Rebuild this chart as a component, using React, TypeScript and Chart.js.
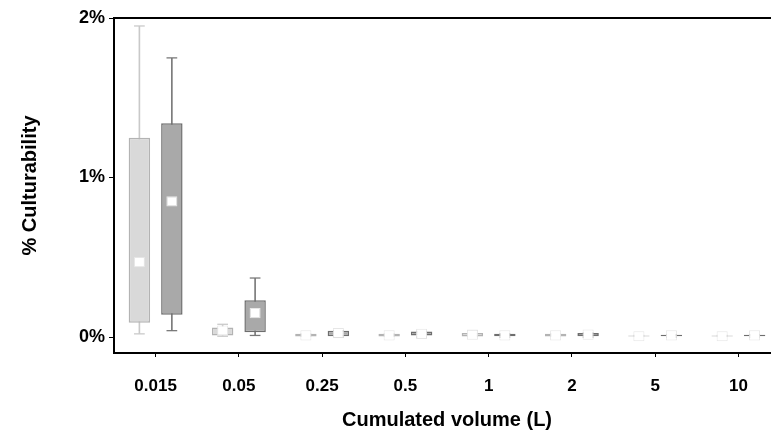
import React, { useRef, useEffect } from "react";
import Chart from "chart.js/auto";

const categories = ["0.015", "0.05", "0.25", "0.5", "1", "2", "5", "10"];
const yTicks = [0, 1, 2];

// light series (%)
const lightLow = [0.02, 0.005, 0.005, 0.005, 0.005, 0.005, 0.005, 0.005];
const lightQ1 = [0.09, 0.01, 0.0, 0.0, 0.0, 0.0, 0.0, 0.0];
const lightMed = [0.47, 0.04, 0.01, 0.01, 0.015, 0.01, 0.005, 0.005];
const lightQ3 = [1.25, 0.06, 0.02, 0.02, 0.025, 0.02, 0.01, 0.01];
const lightHigh = [1.95, 0.08, 0.02, 0.02, 0.04, 0.02, 0.01, 0.01];

// dark series (%)
const darkLow = [0.04, 0.01, 0.0, 0.0, 0.0, 0.0, 0.0, 0.0];
const darkQ1 = [0.14, 0.03, 0.005, 0.01, 0.005, 0.005, 0.005, 0.005];
const darkMed = [0.85, 0.15, 0.025, 0.02, 0.01, 0.015, 0.01, 0.01];
const darkQ3 = [1.34, 0.23, 0.04, 0.035, 0.02, 0.025, 0.015, 0.015];
const darkHigh = [1.75, 0.37, 0.04, 0.035, 0.02, 0.025, 0.015, 0.015];

const FONT = "'Liberation Sans', Arial, sans-serif";

function series(stack: string, low: number[], q1: number[], med: number[], q3: number[], high: number[], fill: string, line: string, whisk: string) {
  const common = { stack, categoryPercentage: 0.78 };
  return [
    { ...common, order: 3, data: low.map((v, i) => [v, high[i]]), backgroundColor: whisk, barPercentage: 0.05 },
    { ...common, order: 2, data: low.map((v) => [v - 0.004, v + 0.004]), backgroundColor: whisk, barPercentage: 0.33 },
    { ...common, order: 2, data: high.map((v) => [v - 0.004, v + 0.004]), backgroundColor: whisk, barPercentage: 0.33 },
    { ...common, order: 1, data: q1.map((v, i) => [v, q3[i]]), backgroundColor: fill, borderColor: line, borderWidth: 1.5, borderSkipped: false, barPercentage: 0.66 },
    { ...common, order: 0, data: med.map((v) => [v - 0.032, v + 0.032]), backgroundColor: "#ffffff", borderColor: "#e6e6e6", borderWidth: 1, borderSkipped: false, barPercentage: 0.34 },
  ];
}

export default function App() {
  const ref = useRef<HTMLCanvasElement>(null);
  useEffect(() => {
    document.body.style.margin = "0";
    if (!ref.current) return;
    const chart = new Chart(ref.current, {
      type: "bar",
      data: {
        labels: categories,
        datasets: [
          ...series("L", lightLow, lightQ1, lightMed, lightQ3, lightHigh, "#d9d9d9", "#b3b3b3", "#c9c9c9"),
          ...series("D", darkLow, darkQ1, darkMed, darkQ3, darkHigh, "#a9a9a9", "#6e6e6e", "#777777"),
        ] as any,
      },
      options: {
        animation: false,
        responsive: true,
        maintainAspectRatio: false,
        layout: { padding: { top: 18, right: 10, left: 0, bottom: 0 } },
        plugins: { legend: { display: false }, tooltip: { enabled: false } },
        scales: {
          x: {
            stacked: true,
            grid: { drawOnChartArea: false, color: "#000", tickLength: 4, offset: false },
            border: { color: "#000", width: 2 },
            ticks: { color: "#000", font: { family: FONT, size: 17, weight: "bold" }, padding: 19 },
            title: { display: true, text: "Cumulated volume (L)", color: "#000", font: { family: FONT, size: 20, weight: "bold" }, padding: { top: 6, bottom: 6 } },
            afterFit: (s: any) => { s.height = 85; },
          },
          x2: {
            position: "top",
            grid: { drawOnChartArea: false, drawTicks: false },
            border: { color: "#000", width: 2 },
            ticks: { display: false },
            afterFit: (s: any) => { s.height = 0; },
          },
          y: {
            stacked: false,
            min: -0.1,
            max: 2,
            afterBuildTicks: (s: any) => { s.ticks = yTicks.map((v) => ({ value: v })); },
            grid: { drawOnChartArea: false, color: "#000", tickLength: 5 },
            border: { color: "#000", width: 2 },
            ticks: { color: "#000", font: { family: FONT, size: 18, weight: "bold" }, callback: (v: any) => v + "%", padding: 4 },
            title: { display: true, text: "% Culturability", color: "#000", font: { family: FONT, size: 20, weight: "bold" }, padding: { top: 18, bottom: 0 } },
            afterFit: (s: any) => { s.width = 114; },
          },
        },
      } as any,
    });
    return () => chart.destroy();
  }, []);
  return (
    <div style={{ width: 771, height: 438, overflow: "hidden" }}>
      <div style={{ width: 790, height: 438 }}>
        <canvas ref={ref} />
      </div>
    </div>
  );
}
